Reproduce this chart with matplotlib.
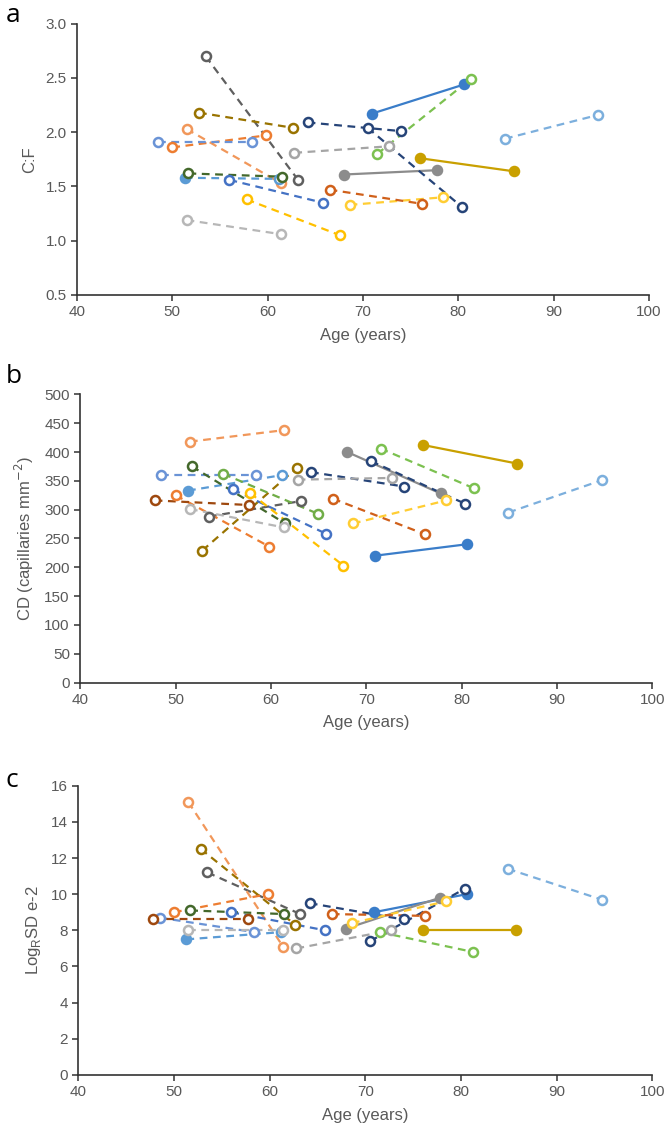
import numpy as np
import matplotlib.pyplot as plt

nan = np.nan

# one entry per subject: age at first and second biopsy
age_first = [70.9, 76.0, 68.0, 71.5, 84.9, 64.2, 70.5, 53.5, 52.8, 51.5, 50.0,
             48.5, 56.0, 51.3, 51.7, 51.5, 62.8, 57.8, 68.6, 66.5, 47.8, 55.0]
age_second = [80.6, 85.8, 77.8, 81.3, 94.7, 74.0, 80.4, 63.2, 62.7, 61.4, 59.8,
              58.4, 65.8, 61.2, 61.5, 61.4, 72.7, 67.6, 78.4, 76.2, 57.7, 64.9]

cf_first = [2.17, 1.76, 1.61, 1.80, 1.94, 2.09, 2.04, 2.70, 2.18, 2.03, 1.86,
            1.91, 1.56, 1.58, 1.62, 1.19, 1.81, 1.38, 1.33, 1.47, nan, nan]
cf_second = [2.44, 1.64, 1.65, 2.49, 2.16, 2.01, 1.31, 1.56, 2.04, 1.53, 1.97,
             1.91, 1.35, 1.57, 1.59, 1.06, 1.87, 1.05, 1.40, 1.34, nan, nan]

cd_first = [220, 412, 400, 406, 295, 365, 384, 288, 229, 418, 325,
            360, 335, 333, 375, 301, 352, 329, 276, 319, 316, 362]
cd_second = [240, 380, 328, 337, 351, 340, 310, 315, 372, 438, 236,
             360, 258, 360, 276, 269, 355, 203, 316, 257, 308, 293]

rsd_first = [9.0, 8.0, 8.1, 7.9, 11.4, 9.5, 7.4, 11.2, 12.5, 15.1, 9.0,
             8.7, 9.0, 7.5, 9.1, 8.0, 7.0, nan, 8.4, 8.9, 8.6, nan]
rsd_second = [10.0, 8.0, 9.8, 6.8, 9.7, 8.6, 10.3, 8.9, 8.3, 7.1, 10.0,
              7.9, 8.0, 7.9, 8.9, 8.0, 8.0, nan, 9.6, 8.8, 8.6, nan]

colors = ['#3A7DC9', '#C9A000', '#8C8C8C', '#7CC150', '#7CAFDD', '#264478',
          '#264478', '#5F5F5F', '#997300', '#F1975A', '#ED7D31', '#6A93D6',
          '#4472C4', '#5B9BD5', '#43682B', '#B7B7B7', '#A5A5A5', '#FFC000',
          '#FFCD33', '#D0601A', '#9E480E', '#70AD47']
# 'both' = solid line with filled markers, 'first' = first marker filled
fill = ['both', 'both', 'both'] + ['none'] * 10 + ['first'] + ['none'] * 8

plt.rcParams['font.family'] = ['Liberation Sans Narrow', 'Liberation Sans', 'DejaVu Sans']
grey = '#595959'

fig = plt.figure(figsize=(6.69, 11.30), dpi=100)
axes = [fig.add_axes([0.115, 0.739, 0.855, 0.240]),
        fig.add_axes([0.120, 0.396, 0.855, 0.255]),
        fig.add_axes([0.117, 0.0487, 0.858, 0.256])]

panels = [
    (cf_first, cf_second, (0.5, 3.0), np.arange(0.5, 3.01, 0.5), 'C:F', '%.1f', 'a', 0.997),
    (cd_first, cd_second, (0, 500), np.arange(0, 501, 50), 'CD (capillaries mm$^{-2}$)', '%d', 'b', 0.678),
    (rsd_first, rsd_second, (0, 16), np.arange(0, 17, 2), 'Log$_{\\mathregular{R}}$SD e-2', '%d', 'c', 0.320),
]

for ax, (v1, v2, ylim, yticks, ylabel, fmt, letter, ly) in zip(axes, panels):
    for i in range(len(age_first)):
        if np.isnan(v1[i]):
            continue
        c = colors[i]
        solid = fill[i] == 'both'
        ax.plot([age_first[i], age_second[i]], [v1[i], v2[i]],
                color=c, lw=1.6, ls='-' if solid else (0, (3.5, 2.5)), zorder=2)
        for j, (x, y) in enumerate([(age_first[i], v1[i]), (age_second[i], v2[i])]):
            filled = solid or (fill[i] == 'first' and j == 0)
            ax.plot(x, y, marker='o', ms=6.5, mew=1.8, color=c,
                    mfc=c if filled else 'white', zorder=3)
    ax.set_xlim(40, 100)
    ax.set_ylim(*ylim)
    ax.set_xticks(range(40, 101, 10))
    ax.set_yticks(yticks)
    ax.set_yticklabels([fmt % t for t in yticks])
    for s in ['top', 'right']:
        ax.spines[s].set_visible(False)
    for s in ['left', 'bottom']:
        ax.spines[s].set_color('#333333')
        ax.spines[s].set_linewidth(1.2)
    ax.tick_params(colors='#333333', labelcolor=grey, labelsize=11, length=4, width=1.1)
    ax.set_xlabel('Age (years)', color=grey, fontsize=12, labelpad=6)
    ax.set_ylabel(ylabel, color=grey, fontsize=12, labelpad=6)
    fig.text(0.008, ly, letter, fontsize=19, family='Open Sans', va='top')

fig.savefig('out.png', dpi=100)
